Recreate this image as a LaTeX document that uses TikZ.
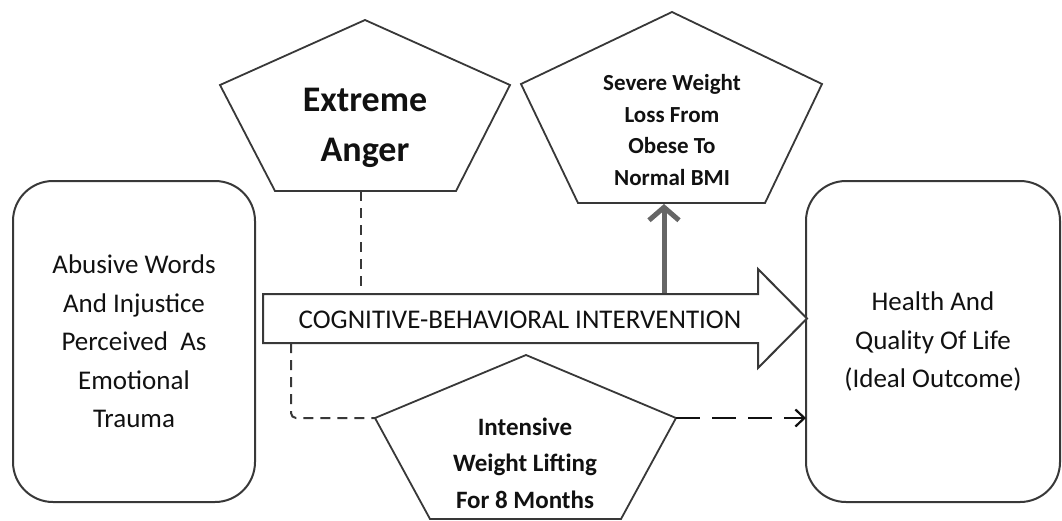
\documentclass[tikz,border=0pt]{standalone}
\usepackage{fontspec}
\setmainfont{Carlito}
\usetikzlibrary{arrows.meta}
\definecolor{linec}{HTML}{383838}
\definecolor{txt}{HTML}{111111}
\definecolor{thick}{HTML}{666666}
\begin{document}
\begin{tikzpicture}[x=1pt,y=-1pt,
  box/.style={draw=linec, line width=2pt, rounded corners=40pt, align=center,
    text=txt, font=\fontsize{27}{38.5}\selectfont, inner sep=0pt},
  pent/.style={draw=linec, line width=1.8pt, line join=miter},
  penttext/.style={align=center, text=txt, inner sep=0pt},
  shaft/.style={draw=linec, line width=2pt, line join=miter, fill=white},
  dashlink/.style={draw=linec, line width=2pt, dash pattern=on 10pt off 7pt},
  longdash/.style={draw=txt, line width=2.4pt, dash pattern=on 24pt off 12pt,
    -{Straight Barb[length=9pt,width=17pt,line width=2.2pt]}},
  upthick/.style={draw=thick, line width=5pt,
    -{Straight Barb[length=13pt,width=30pt,line width=5pt]}}
]
\useasboundingbox (0,0) rectangle (1062,520);

% side boxes
\node[box, minimum width=242pt, minimum height=321pt] (src) at (134,341.5)
  {Abusive Words\\And Injustice\\Perceived~ As\\Emotional\\Trauma};
\node[box, minimum width=254pt, minimum height=321pt] (out) at (933,341.5)
  {Health And\\Quality Of Life\\(Ideal Outcome)};

% big arrow
\coordinate (cbiA) at (263,294);
\coordinate (cbiB) at (263,343);
\coordinate (cbiTip) at (807,318.5);
\draw[shaft] (cbiA) -- (758,294) -- (758,269) -- (cbiTip) -- (758,368) -- (758,343) -- (cbiB) -- cycle;
\node[penttext, font=\fontsize{27}{30}\selectfont] (cbi) at (520,320) {COGNITIVE-BEHAVIORAL INTERVENTION};

% Extreme Anger pentagon
\coordinate (eaTop) at (365,20);
\coordinate (eaR) at (510,85);
\coordinate (eaBR) at (456,191);
\coordinate (eaBL) at (275,191);
\coordinate (eaL) at (220,85);
\draw[pent, fill=white] (eaTop) -- (eaR) -- (eaBR) -- (eaBL) -- (eaL) -- cycle;
\node[penttext, font=\fontsize{36}{50}\selectfont\bfseries] (ea) at (365,128) {Extreme\\Anger};
\coordinate (eaOut) at (361,191);
\coordinate (eaIn) at (361,294);

% Severe Weight Loss pentagon
\coordinate (swTop) at (672,12);
\coordinate (swR) at (822,84);
\coordinate (swBR) at (765,203);
\coordinate (swBL) at (578,203);
\coordinate (swL) at (521,84);
\draw[pent, fill=white] (swTop) -- (swR) -- (swBR) -- (swBL) -- (swL) -- cycle;
\node[penttext, font=\fontsize{23}{31.5}\selectfont\bfseries] (sw) at (672,130) {Severe Weight\\Loss From\\Obese To\\Normal BMI};
\coordinate (swIn) at (664,204);
\coordinate (swFrom) at (664,293);

% Intensive Weight Lifting pentagon
\coordinate (iwTop) at (526,355);
\coordinate (iwR) at (676,418);
\coordinate (iwBR) at (621,519);
\coordinate (iwBL) at (430,519);
\coordinate (iwL) at (375,418);
\draw[pent, fill=white] (iwTop) -- (iwR) -- (iwBR) -- (iwBL) -- (iwL) -- cycle;
\node[penttext, font=\fontsize{25}{36.5}\selectfont\bfseries] (iw) at (525,463) {Intensive\\Weight Lifting\\For 8 Months};
\coordinate (iwFrom) at (291,343);
\coordinate (outIn) at (806,418);

% connectors
\draw[dashlink] (eaOut) -- (eaIn);
\draw[dashlink, rounded corners=5pt] (iwFrom) |- (iwL);
\draw[longdash] (iwR) -- (outIn);
\draw[upthick] (swFrom) -- (swIn);
\end{tikzpicture}
\end{document}
